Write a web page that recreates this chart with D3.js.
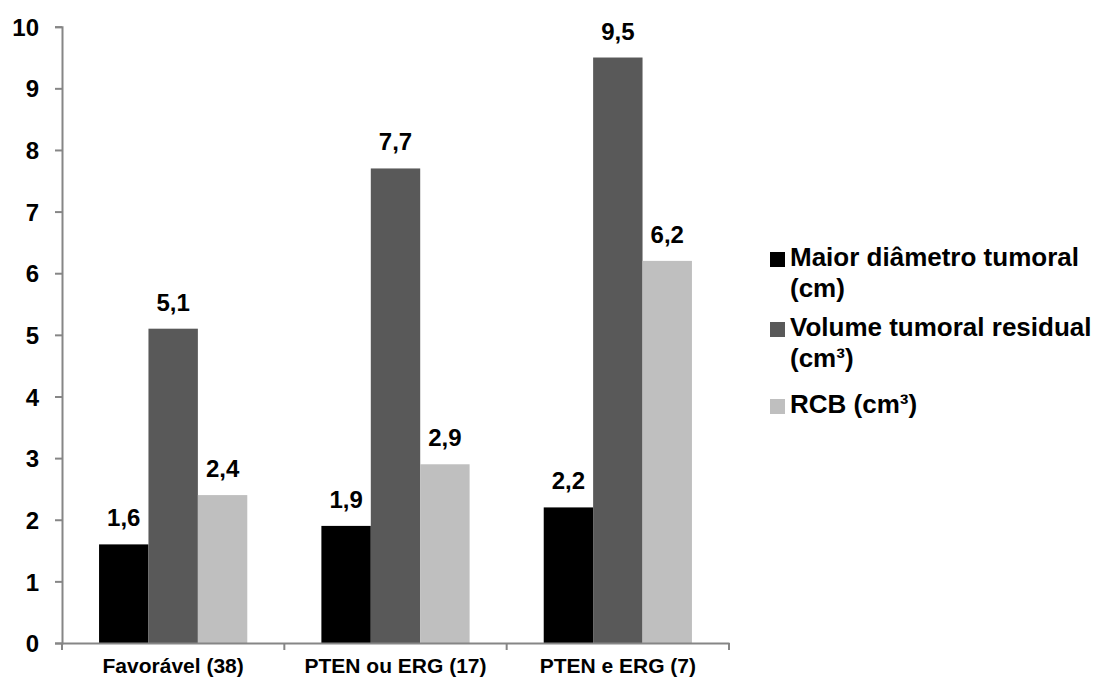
<!DOCTYPE html>
<html>
<head>
<meta charset="utf-8">
<script src="https://cdn.jsdelivr.net/npm/d3@7"></script>
<style>
  html, body { margin: 0; padding: 0; background: #fff; }
  svg { display: block; font-family: Arial, "Liberation Sans", sans-serif; font-weight: bold; }
</style>
</head>
<body>
<svg id="chart" width="1102" height="678"></svg>
<script>
const categories = ["Favorável (38)", "PTEN ou ERG (17)", "PTEN e ERG (7)"];
const seriesNames = [["Maior diâmetro tumoral", "(cm)"], ["Volume tumoral residual", "(cm³)"], ["RCB (cm³)"]];
const maiorDiametro = [1.6, 1.9, 2.2];
const volumeResidual = [5.1, 7.7, 9.5];
const rcb = [2.4, 2.9, 6.2];
const yTicks = [0, 1, 2, 3, 4, 5, 6, 7, 8, 9, 10];
const colors = ["#000000", "#595959", "#bfbfbf"];

const series = [maiorDiametro, volumeResidual, rcb];
const svg = d3.select("#chart");
const FONT = "Arial, 'Liberation Sans', sans-serif";

const x0 = 62, x1 = 729, yBottom = 643, yTop = 26.7;
const x = d3.scaleBand().domain(categories).range([x0, x1]).padding(0);
const y = d3.scaleLinear().domain([0, 10]).range([yBottom, yTop]);
const bw = x.bandwidth();
const xs = d3.scaleBand().domain(d3.range(series.length)).range([bw / 6, bw - bw / 6]).padding(0);

const fmt = v => String(v).replace(".", ",");

// bars
series.forEach((vals, si) => {
  const g = svg.append("g");
  g.selectAll("rect").data(vals).join("rect")
    .attr("x", (d, i) => x(categories[i]) + xs(si))
    .attr("y", d => y(d))
    .attr("width", xs.bandwidth())
    .attr("height", d => y(0) - y(d))
    .attr("fill", colors[si]);
  g.selectAll("text").data(vals).join("text")
    .attr("x", (d, i) => x(categories[i]) + xs(si) + xs.bandwidth() / 2)
    .attr("y", d => y(d) - 18)
    .attr("text-anchor", "middle")
    .attr("font-size", 24)
    .attr("fill", "#000")
    .text(fmt);
});

// y axis
const yAxis = svg.append("g").attr("transform", `translate(${x0},0)`)
  .call(d3.axisLeft(y).tickValues(yTicks).tickSize(7).tickPadding(16).tickFormat(d3.format("d")));
yAxis.select(".domain").attr("stroke", "#868686").attr("stroke-width", 2);
yAxis.selectAll(".tick line").attr("stroke", "#868686").attr("stroke-width", 2);
yAxis.selectAll(".tick text").attr("font-size", 24).attr("font-family", FONT)
  .attr("font-weight", "bold").attr("fill", "#000").attr("dy", "0.36em");

// x axis
const xAxis = svg.append("g").attr("transform", `translate(0,${yBottom})`)
  .call(d3.axisBottom(x).tickSize(0).tickPadding(15));
xAxis.select(".domain").attr("stroke", "#868686").attr("stroke-width", 2);
xAxis.selectAll(".tick text").attr("font-size", 21).attr("font-family", FONT)
  .attr("font-weight", "bold").attr("fill", "#000");
// category boundary ticks
const bounds = categories.map(c => x(c)).concat([x1]);
xAxis.selectAll(".bound").data(bounds).join("line")
  .attr("x1", d => d).attr("x2", d => d).attr("y1", 0).attr("y2", 7)
  .attr("stroke", "#868686").attr("stroke-width", 2);

// legend
const legendY = [266, 336, 413];
const lg = svg.append("g").attr("transform", "translate(770,0)");
seriesNames.forEach((lines, i) => {
  lg.append("rect").attr("x", 0).attr("y", legendY[i] - 14).attr("width", 15).attr("height", 15).attr("fill", colors[i]);
  const t = lg.append("text").attr("x", 20).attr("y", legendY[i]).attr("font-size", 26).attr("fill", "#000");
  lines.forEach((l, j) => {
    t.append("tspan").attr("x", 20).attr("dy", j === 0 ? 0 : 31).text(l);
  });
});
</script>
</body>
</html>
